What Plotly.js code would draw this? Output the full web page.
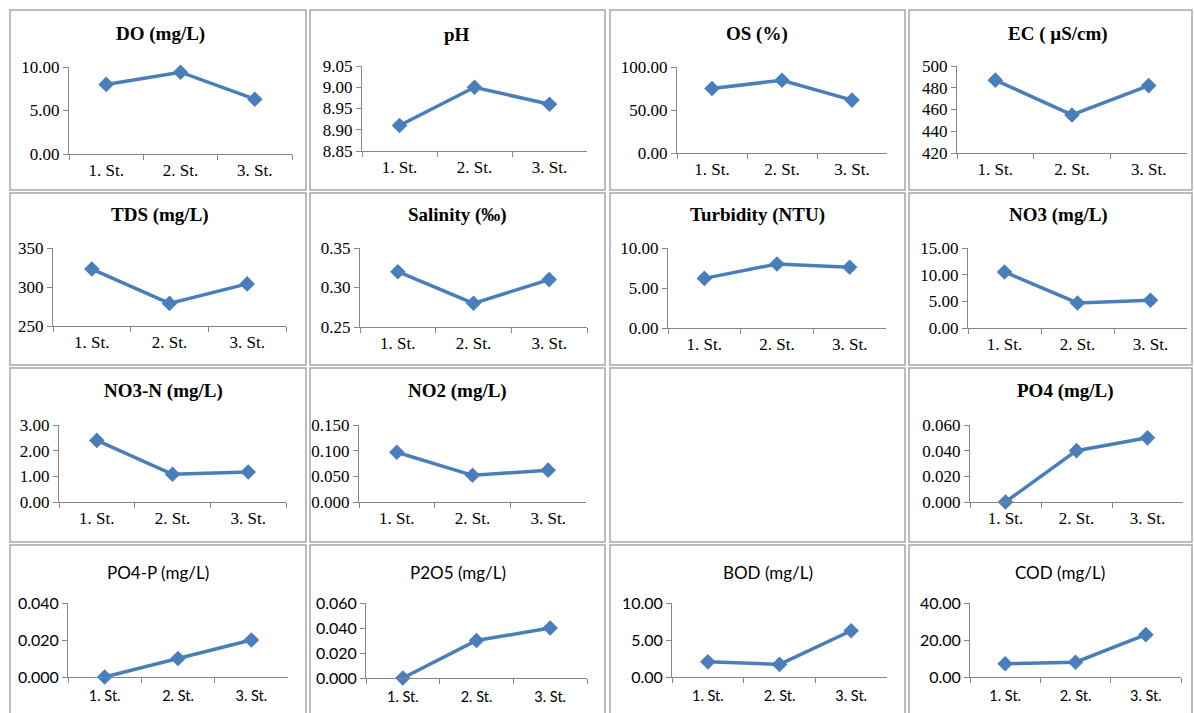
<!DOCTYPE html>
<html>
<head>
<meta charset="utf-8">
<script src="https://cdn.plot.ly/plotly-3.0.1.min.js"></script>
<style>
html,body{margin:0;padding:0;background:#fff;}
#chart{width:1194px;height:713px;}
</style>
</head>
<body>
<div id="chart"></div>
<script>
// ---- data ----
const stations = ["1. St.", "2. St.", "3. St."];
const titles = ["DO (mg/L)", "pH", "OS (%)", "EC ( µS/cm)",
                "TDS (mg/L)", "Salinity (‰)", "Turbidity (NTU)", "NO3 (mg/L)",
                "NO3-N (mg/L)", "NO2 (mg/L)", "PO4 (mg/L)",
                "PO4-P (mg/L)", "P2O5 (mg/L)", "BOD (mg/L)", "COD (mg/L)"];
const doVals = [8.0, 9.4, 6.3];
const phVals = [8.91, 9.00, 8.96];
const osVals = [75.0, 84.6, 61.5];
const ecVals = [487, 455, 482];
const tdsVals = [323, 279, 304];
const salinityVals = [0.32, 0.28, 0.31];
const turbidityVals = [6.2, 8.0, 7.6];
const no3Vals = [10.5, 4.7, 5.2];
const no3nVals = [2.40, 1.08, 1.17];
const no2Vals = [0.097, 0.052, 0.062];
const po4Vals = [0.000, 0.040, 0.050];
const po4pVals = [0.000, 0.010, 0.020];
const p2o5Vals = [0.000, 0.030, 0.040];
const bodVals = [2.05, 1.70, 6.25];
const codVals = [7.2, 8.0, 22.9];
// y-axis tick ranges [min, max, step, format]
const yRanges = [[0,10,5,".2f"],[8.85,9.05,0.05,".2f"],[0,100,50,".2f"],[420,500,20,"d"],
                 [250,350,50,"d"],[0.25,0.35,0.05,".2f"],[0,10,5,".2f"],[0,15,5,".2f"],
                 [0,3,1,".2f"],[0,0.15,0.05,".3f"],[0,0.06,0.02,".3f"],
                 [0,0.04,0.02,".3f"],[0,0.06,0.02,".3f"],[0,10,5,".2f"],[0,40,20,".2f"]];
const series = [doVals, phVals, osVals, ecVals, tdsVals, salinityVals, turbidityVals, no3Vals,
                no3nVals, no2Vals, po4Vals, po4pVals, p2o5Vals, bodVals, codVals];

// ---- layout geometry (pixels) ----
const W = 1194, H = 713;
// [axisLeft, axisRight, top, bottom, titleX, titleY]
const boxes = [
  [69, 292, 67, 154, 160, 34], [362, 587, 66, 151, 457, 34], [677, 887, 67, 153, 757, 34], [957, 1187, 66, 153, 1058, 34],
  [53, 286, 248, 326, 160, 215], [360, 587, 248, 327, 457, 215], [668, 886, 248, 328, 757, 215], [968, 1187, 248, 328, 1058, 215],
  [59, 286, 425, 502, 163, 391], [359, 586, 425, 502, 457, 391], [970, 1183, 425, 502, 1065, 391],
  [68, 288, 603, 677, 158, 572], [366, 587, 603, 678, 458, 572], [672, 887, 603, 677, 768, 572], [970, 1181, 603, 677, 1060, 572]
];
const cols = [[10,306],[310,605],[610,905],[909,1192]];
const rows = [[10,190],[193,365],[368,542],[545,716]];

const blue = "#4a7ebb";
const serif = "Liberation Serif, Times New Roman, serif";
const sans = "Lato, Carlito, sans-serif";

const traces = [];
const layout = {
  width: W, height: H,
  margin: {l:0, r:0, t:0, b:0},
  paper_bgcolor: "#fff", plot_bgcolor: "rgba(0,0,0,0)",
  showlegend: false,
  annotations: [], shapes: []
};

series.forEach((vals, i) => {
  const b = boxes[i];
  const n = i === 0 ? "" : String(i + 1);
  const bottomRow = i >= 11;
  const font = bottomRow ? sans : serif;
  const xsize = bottomRow ? 14.5 : 17;
  const ysize = bottomRow ? 16 : 17;
  traces.push({
    type: "scatter", mode: "lines+markers",
    x: stations, y: vals,
    xaxis: "x" + n, yaxis: "y" + n,
    line: {color: blue, width: 3.5},
    marker: {symbol: "diamond", size: 12, color: blue},
    cliponaxis: false, hoverinfo: "skip"
  });
  const r = yRanges[i];
  layout["xaxis" + n] = {
    domain: [b[0] / W, b[1] / W], anchor: "y" + n,
    type: "category", range: [-0.5, 2.5],
    showline: true, linecolor: "#868686", linewidth: 1,
    ticks: "outside", tickson: "boundaries", ticklen: 5, tickcolor: "#868686",
    ticklabelstandoff: bottomRow ? 6 : 1,
    showgrid: false, zeroline: false, fixedrange: true,
    tickfont: {family: font, size: xsize, color: "#000"}
  };
  layout["yaxis" + n] = {
    domain: [1 - b[3] / H, 1 - b[2] / H], anchor: "x" + n,
    range: [r[0], r[1]], tick0: r[0], dtick: r[2], tickformat: r[3],
    showline: true, linecolor: "#868686", linewidth: 1,
    ticks: "outside", ticklen: 5, tickcolor: "#868686",
    showgrid: false, zeroline: false, fixedrange: true,
    tickfont: {family: font, size: ysize, color: "#000"}
  };
  layout.annotations.push({
    xref: "paper", yref: "paper", x: b[4] / W, y: 1 - b[5] / H,
    xanchor: "center", yanchor: "middle", showarrow: false,
    text: bottomRow ? titles[i] : "<b>" + titles[i] + "</b>",
    font: {family: font, size: bottomRow ? 17 : 19, color: "#000"}
  });
});

rows.forEach(rw => cols.forEach(c => {
  layout.shapes.push({
    type: "rect", xref: "paper", yref: "paper",
    x0: c[0] / W, x1: c[1] / W, y0: 1 - rw[1] / H, y1: 1 - rw[0] / H,
    line: {color: "#a6a6a6", width: 1.5}, fillcolor: "rgba(0,0,0,0)", layer: "below"
  });
}));

Plotly.newPlot("chart", traces, layout, {staticPlot: true, displayModeBar: false});
</script>
</body>
</html>
